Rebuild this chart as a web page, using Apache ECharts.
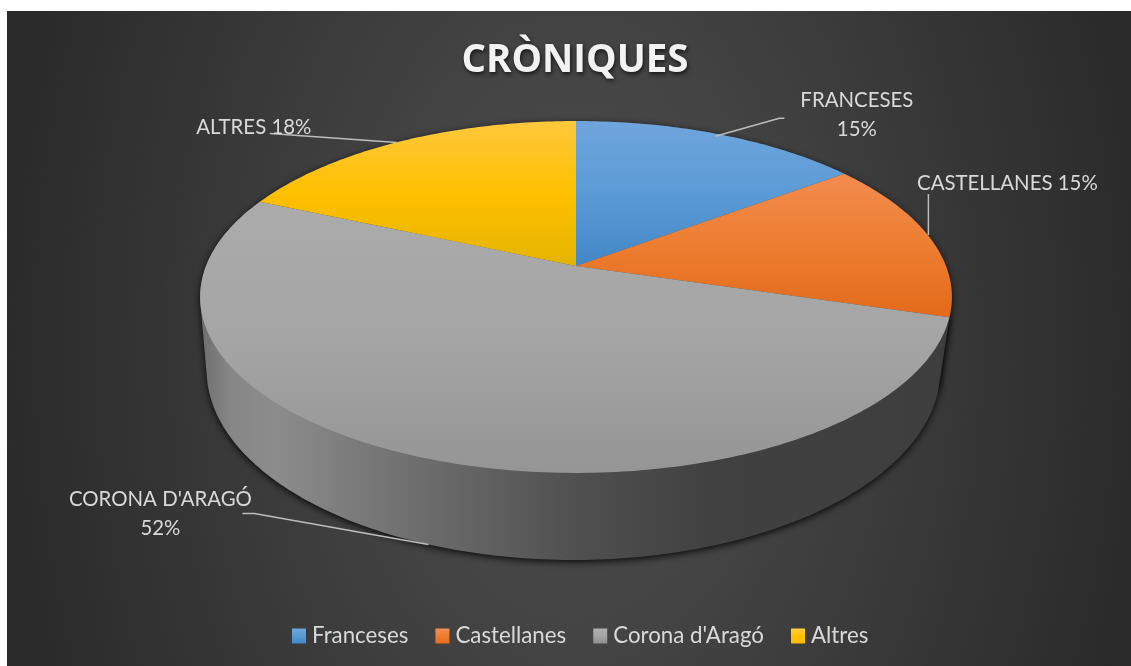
<!DOCTYPE html>
<html><head><meta charset="utf-8">
<style>
html,body{margin:0;padding:0;background:#fff;width:1131px;height:666px;overflow:hidden}
#bg{position:absolute;left:7px;top:11px;width:1124px;height:655px;
background:radial-gradient(ellipse 580px 900px at 568px 330px,#4a4a4a 0%,#454545 30%,#2a2a2a 100%)}
#c{position:absolute;left:0;top:0;width:1131px;height:666px}
</style>
<script src="https://cdn.jsdelivr.net/npm/echarts@6/dist/echarts.min.js"></script>
</head><body><div id="bg"></div><div id="c"></div>
<script>
const titleText = "CRÒNIQUES";
const categories = ["Franceses", "Castellanes", "Corona d'Aragó", "Altres"];
const dataLabels = ["FRANCESES", "CASTELLANES", "CORONA D'ARAGÓ", "ALTRES"];
const shares = [14.8, 14.8, 52.0, 18.4];

const FONT = 'Lato';
const APEX = {x: 576, y: 266};
const PERSP = {c: -0.176, a: 170.5, d: 370};
const BOTTOM = {x: 573.5, y: 336.5, sx: 0.976, sy: 1.08};
const topFills = [
  ['#6fa5dc', '#5b9bd5', '#4387c7'], ['#f28c4f', '#ed7d31', '#e36a1a'],
  ['#ababab', '#a5a5a5', '#959595'], ['#ffc83c', '#ffc000', '#e4b400']
];
const legendFills = [
  ['#6ea5de', '#5b9bd5', '#4188c9'], ['#f48f55', '#ed7d31', '#e86c1c'],
  ['#b0b0b0', '#a5a5a5', '#8f8f8f'], ['#ffcf45', '#ffc000', '#f6be00']
];
const labelLayout = [
  {anchor: [-4, 2], text: [141.5, -21], elbow: [[64, -18], [69, -18]], sep: '\n'},
  {anchor: [-1, -2], text: [79, -52], elbow: [[0, -41]], sep: ' '},
  {anchor: [4, 1], text: [-268, -31], elbow: [[-174, -31], [-186, -31]], sep: '\n'},
  {anchor: [-3, 1], text: [-143, -15], elbow: [[-127, -9]], sep: ' '}
];

function grad(t){
  return new echarts.graphic.LinearGradient(0,0,0,1,[
    {offset:0,color:t[0]},{offset:0.5,color:t[1]},{offset:1,color:t[2]}]);
}
function sideFill(i){
  if(i!==2) return '#3e3e3e';
  return new echarts.graphic.LinearGradient(0,0,1,0,[
    {offset:0,color:'#6e6e6e'},{offset:0.04,color:'#868686'},{offset:0.1,color:'#8c8c8c'},
    {offset:0.3,color:'#6c6c6c'},{offset:0.5,color:'#505050'},{offset:0.68,color:'#414141'},{offset:1,color:'#3e3e3e'}
  ]);
}
function proj(pct, lower){
  const t = pct/100*2*Math.PI, x = Math.sin(t), y = -Math.cos(t);
  const den = 1 + PERSP.c*y, X = x*PERSP.d/den, Y = y*PERSP.a/den;
  return lower ? [BOTTOM.x + X*BOTTOM.sx, BOTTOM.y + Y*BOTTOM.sy] : [APEX.x + X, APEX.y + Y];
}
function arc(a, b, lower){
  const pts = [], n = Math.max(2, Math.ceil((b-a)*4));
  for(let i=0;i<=n;i++) pts.push(proj(a+(b-a)*i/n, lower));
  return pts;
}
function hull(points){
  const p = points.slice().sort((u,v)=>u[0]-v[0]||u[1]-v[1]);
  const cross=(o,a,b)=>(a[0]-o[0])*(b[1]-o[1])-(a[1]-o[1])*(b[0]-o[0]);
  const lo=[],up=[];
  p.forEach(q=>{while(lo.length>1&&cross(lo[lo.length-2],lo[lo.length-1],q)<=0)lo.pop();lo.push(q);});
  p.slice().reverse().forEach(q=>{while(up.length>1&&cross(up[up.length-2],up[up.length-1],q)<=0)up.pop();up.push(q);});
  lo.pop();up.pop();
  return lo.concat(up);
}
function renderSlice(i){
  return function(params, api){
    const a = api.value(0), b = api.value(1), mid = (a+b)/2;
    const top = arc(a,b,false), low = arc(a,b,true);
    const base = i===2 ? proj(mid,true) : proj(mid,false);
    const L = labelLayout[i];
    const anchor = [base[0]+L.anchor[0], base[1]+L.anchor[1]];
    const linePts = [anchor].concat(L.elbow.map(o=>[anchor[0]+o[0],anchor[1]+o[1]]));
    return {type:'group',children:[
      {type:'polygon',z2:i,shape:{points:hull(top.concat(low))},
       style:{fill:sideFill(i),shadowBlur:7,shadowColor:'rgba(0,0,0,0.85)',shadowOffsetY:2}},
      {type:'polygon',z2:10+i,shape:{points:[[APEX.x,APEX.y]].concat(top)},style:{fill:grad(topFills[i])}},
      {type:'polyline',z2:20,shape:{points:linePts},style:{fill:null,stroke:'#bdbdbd',lineWidth:1.5}},
      {type:'text',z2:30,x:anchor[0]+L.text[0],y:anchor[1]+L.text[1],
       style:{text:dataLabels[i]+L.sep+Math.round(b-a)+'%',fill:'#d9d9d9',font:'20.4px '+FONT,
              align:'center',verticalAlign:'middle',lineHeight:29}}
    ]};
  };
}
let cum = 0;
const series = categories.map((name,i)=>{
  const s = cum; cum += shares[i];
  return {type:'custom',name,coordinateSystem:'none',animation:false,silent:true,
    renderItem:renderSlice(i),
    itemStyle:{color:grad(legendFills[i])},
    encode:{value:[0,1]},
    data:[[s,cum]]};
});
const chart = echarts.init(document.getElementById('c'),null,{renderer:'canvas'});
chart.setOption({
  animation:false,
  backgroundColor:'transparent',
  title:{text:titleText,left:570,top:37,textAlign:'center',
    textStyle:{fontFamily:'Open Sans',fontSize:38.5,fontWeight:'bold',color:'#f2f2f2',
      textShadowColor:'rgba(0,0,0,0.7)',textShadowBlur:4,textShadowOffsetX:1,textShadowOffsetY:2}},
  legend:{left:292,top:625,padding:0,itemWidth:14,itemHeight:15,itemGap:27,icon:'rect',
    data:categories,selectedMode:false,
    textStyle:{fontFamily:FONT,fontSize:22.3,color:'#d9d9d9',padding:[0,0,0,1]}},
  series
});
</script></body></html>
